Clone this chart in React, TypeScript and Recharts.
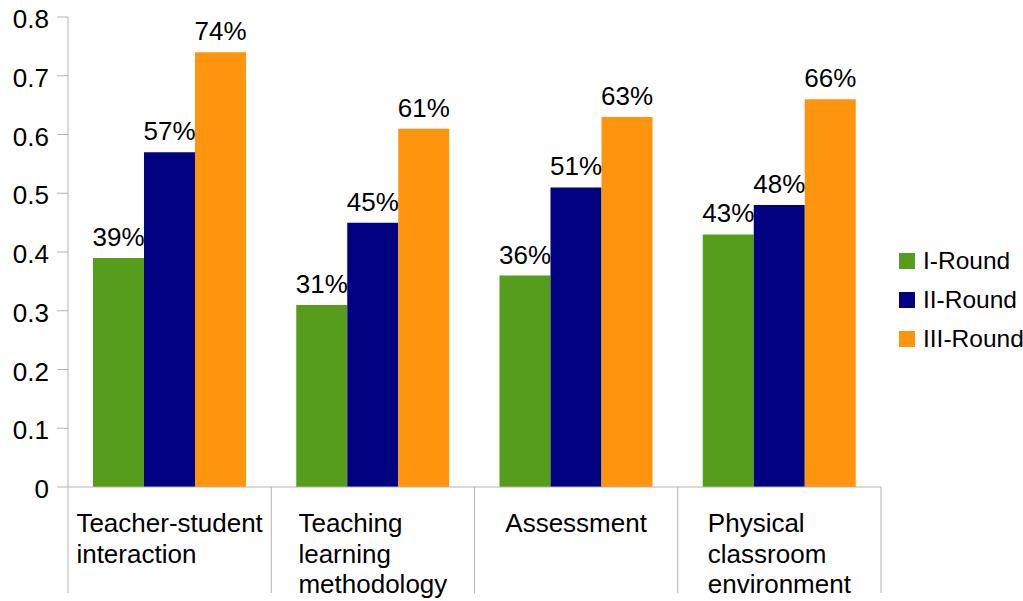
import React from 'react';
import { BarChart, Bar, XAxis, YAxis, LabelList } from 'recharts';

const categories = [
  'Teacher-student interaction',
  'Teaching learning methodology',
  'Assessment',
  'Physical classroom environment',
];
const categoryLines = [
  ['Teacher-student', 'interaction'],
  ['Teaching', 'learning', 'methodology'],
  ['Assessment'],
  ['Physical', 'classroom', 'environment'],
];
const round1 = [0.39, 0.31, 0.36, 0.43];
const round2 = [0.57, 0.45, 0.51, 0.48];
const round3 = [0.74, 0.61, 0.63, 0.66];
const seriesNames = ['I-Round', 'II-Round', 'III-Round'];
const seriesColors = ['#579d1c', '#000080', '#ff950e'];
const yTicks = [0, 0.1, 0.2, 0.3, 0.4, 0.5, 0.6, 0.7, 0.8];

const data = categories.map((c, i) => ({
  name: c,
  r1: round1[i],
  r2: round2[i],
  r3: round3[i],
}));
const keys = ['r1', 'r2', 'r3'];

const FONT = "'Liberation Sans', Arial, sans-serif";
const AXIS = '#b3b3b3';
const FS = 26;

let ctx: CanvasRenderingContext2D | null = null;
function measure(s: string, size: number) {
  if (!ctx) ctx = document.createElement('canvas').getContext('2d');
  if (!ctx) return s.length * size * 0.5;
  ctx.font = `${size}px ${FONT}`;
  return ctx.measureText(s).width;
}

const XTick = (props: any) => {
  const { x, y, payload, index } = props;
  const half = payload && payload.offset ? payload.offset : 101.6;
  const lines = categoryLines[index] || [String(payload.value)];
  const w = Math.max(...lines.map((l) => measure(l, FS)));
  const startX = x - w / 2;
  return (
    <g>
      <line x1={x - half} y1={y} x2={x - half} y2={y + 106} stroke={AXIS} strokeWidth={1} />
      {index === categories.length - 1 && (
        <line x1={x + half} y1={y} x2={x + half} y2={y + 106} stroke={AXIS} strokeWidth={1} />
      )}
      <text x={startX} y={y} fontSize={FS} fontFamily={FONT} fill="#000" textAnchor="start">
        {lines.map((l, i) => (
          <tspan key={i} x={startX} y={y + 45 + i * 30.5}>
            {l}
          </tspan>
        ))}
      </text>
    </g>
  );
};

export default function App() {
  return (
    <div style={{ position: 'absolute', left: 0, top: 0, width: 1023, height: 601, background: '#fff' }}>
      <BarChart
        width={1023}
        height={601}
        data={data}
        margin={{ top: 17, right: 142, bottom: 0, left: 8 }}
        barCategoryGap={25}
        barGap={0}
      >
        <XAxis
          dataKey="name"
          axisLine={{ stroke: AXIS }}
          tickLine={false}
          tickSize={0}
          tickMargin={0}
          height={114}
          interval={0}
          tick={<XTick />}
        />
        <YAxis
          domain={[0, 0.8]}
          ticks={yTicks}
          width={60}
          axisLine={{ stroke: AXIS }}
          tickLine={{ stroke: AXIS }}
          tickSize={11}
          tickMargin={8}
          tick={{ fontSize: FS, fontFamily: FONT, fill: '#000', dy: 2 }}
          tickFormatter={(v: number) => String(v)}
        />
        {keys.map((k, i) => (
          <Bar key={k} dataKey={k} name={seriesNames[i]} fill={seriesColors[i]} isAnimationActive={false}>
            <LabelList
              dataKey={k}
              position="top"
              offset={12}
              formatter={(v: any) => `${Math.round(Number(v) * 100)}%`}
              style={{ fontSize: FS, fontFamily: FONT, fill: '#000' }}
            />
          </Bar>
        ))}
      </BarChart>
      <div style={{ position: 'absolute', left: 899, top: 241, fontFamily: FONT, fontSize: 24.5, color: '#000' }}>
        {seriesNames.map((n, i) => (
          <div key={n} style={{ display: 'flex', alignItems: 'center', height: 39, whiteSpace: 'nowrap' }}>
            <div style={{ width: 16, height: 16, background: seriesColors[i], marginRight: 8 }} />
            <span>{n}</span>
          </div>
        ))}
      </div>
    </div>
  );
}
